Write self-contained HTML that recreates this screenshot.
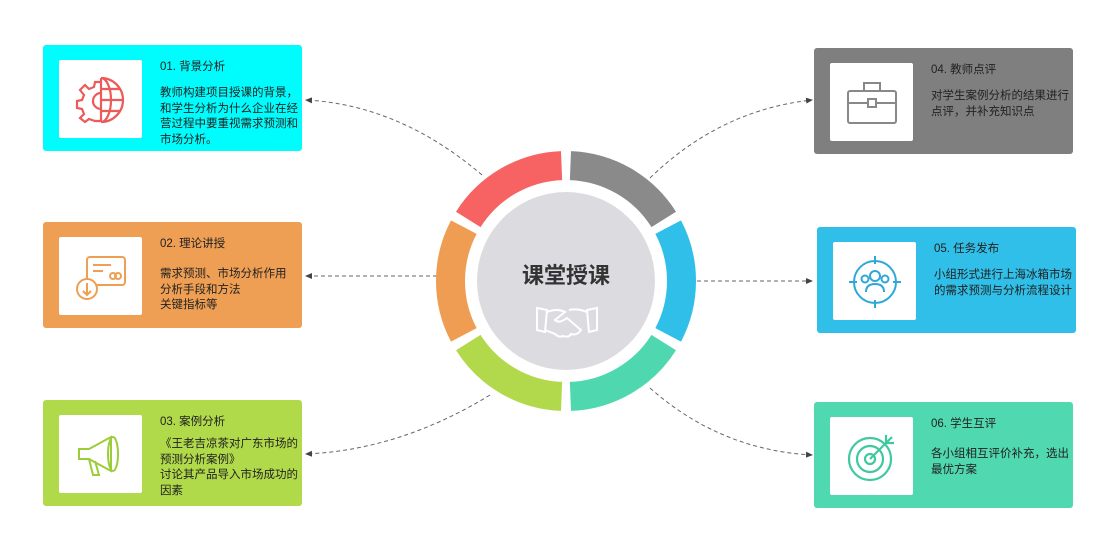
<!DOCTYPE html>
<html><head><meta charset="utf-8"><style>
body{margin:0;width:1105px;height:539px;background:#fff;position:relative;overflow:hidden;font-family:"Liberation Sans","Noto Sans CJK SC",sans-serif;}
.card{position:absolute;width:259px;height:106px;border-radius:3px;color:#222;}
.ib{position:absolute;left:16px;top:15px;width:83px;height:78px;background:#fff;border-radius:2px;}
.ib svg{position:absolute;left:16px;top:14px;}
.t{position:absolute;left:117px;top:13px;font-size:11.5px;}
.b{position:absolute;left:117px;top:41px;font-size:11.5px;line-height:15.5px;width:140px;}
</style></head><body>
<svg width="1105" height="539" style="position:absolute;left:0;top:0">
<defs><marker id="a" markerWidth="8" markerHeight="8" refX="6" refY="4" orient="auto"><path d="M0,1 L7,4 L0,7z" fill="#444"/></marker></defs>
<g fill="none" stroke="#666" stroke-width="1" stroke-dasharray="4,3" marker-end="url(#a)">
<path d="M482,175 Q400,105 306,100"/>
<path d="M437,276 L306,276"/>
<path d="M490,395 Q400,450 306,454"/>
<path d="M650,178 Q720,110 812,100"/>
<path d="M697,281 L812,281"/>
<path d="M650,388 Q720,450 812,455"/>
</g>
<circle cx="566" cy="281" r="89" fill="#dcdbe0"/>
</svg>
<svg width="1105" height="539" style="position:absolute;left:0;top:0" id="ring"></svg>
<script>
var s=document.getElementById('ring'),cx=566,cy=281,R=115.5,cols=['#8a8a8a','#2fbfe8','#4fd8b0','#b1d94b','#ee9d52','#f76262'];
for(var i=0;i<6;i++){var a0=(-90+i*60+2.2)*Math.PI/180,a1=(-90+(i+1)*60-2.2)*Math.PI/180;
var p=document.createElementNS('http://www.w3.org/2000/svg','path');
p.setAttribute('d','M'+(cx+R*Math.cos(a0))+','+(cy+R*Math.sin(a0))+' A'+R+','+R+' 0 0 1 '+(cx+R*Math.cos(a1))+','+(cy+R*Math.sin(a1)));
p.setAttribute('fill','none');p.setAttribute('stroke',cols[i]);p.setAttribute('stroke-width','29');s.appendChild(p);}
</script>
<div style="position:absolute;left:486px;top:258px;width:160px;text-align:center;font-size:22px;font-weight:bold;color:#333;">课堂授课</div>
<svg width="64" height="40" style="position:absolute;left:535px;top:304px" fill="none" stroke="#fff" stroke-width="2">
<path d="M2,4 L12,6 L10,28 L2,26z M62,4 L52,6 L54,28 L62,26z M12,8 Q22,4 30,8 L20,16 Q24,20 32,14 L46,26 Q42,32 36,30 Q34,34 28,32 Q24,34 20,30 L10,26 M52,8 Q42,4 34,6"/></svg>

<div class="card" style="left:43px;top:45px;background:#00fdfd"><div class="ib"><svg width="52" height="52" fill="none" stroke="#ec5a5a" stroke-width="2.2"><path d="M26,4 A22,22 0 0 1 26,48 M26,4 A10,22 0 0 1 26,48 M26,4 L26,48 M26,15 L45,15 M26,26 L48,26 M26,37 L45,37"/><path d="M26,8 L20,8 L19,13 L14,15 L10,11 L5,16 L9,21 L7,26 L2,27 L2,34 L7,35 L9,40 L5,44 L10,48 L14,45 L20,47 L26,47 M26,19 A8,8 0 0 0 26,35"/></svg></div><div class="t">01. 背景分析</div><div class="b">教师构建项目授课的背景，和学生分析为什么企业在经营过程中要重视需求预测和市场分析。</div></div>

<div class="card" style="left:43px;top:222px;background:#ef9f53"><div class="ib"><svg width="52" height="52" fill="none" stroke="#ef9f53" stroke-width="2"><rect x="12" y="6" width="38" height="28" rx="3"/><path d="M18,14 L36,14 M18,20 L28,20"/><circle cx="38" cy="25" r="3"/><circle cx="43" cy="25" r="3"/><circle cx="12" cy="38" r="10" fill="#fff"/><path d="M12,32 L12,44 M8,40 L12,44 L16,40"/></svg></div><div class="t">02. 理论讲授</div><div class="b" style="top:45px">需求预测、市场分析作用<br>分析手段和方法<br>关键指标等</div></div>

<div class="card" style="left:43px;top:400px;background:#b1da4a"><div class="ib"><svg width="52" height="52" fill="none" stroke="#9ccc3a" stroke-width="2"><path d="M4,20 L14,20 L36,8 L36,42 L14,30 L4,30z M14,30 L18,46 L24,46 L20,32"/><ellipse cx="38" cy="25" rx="5" ry="17"/></svg></div><div class="t">03. 案例分析</div><div class="b" style="top:37px">《王老吉凉茶对广东市场的预测分析案例》<br>讨论其产品导入市场成功的因素</div></div>

<div class="card" style="left:814px;top:48px;background:#7f7f7f"><div class="ib"><svg width="52" height="52" fill="none" stroke="#888" stroke-width="2"><rect x="2" y="14" width="48" height="32" rx="2"/><path d="M18,14 L18,6 L34,6 L34,14 M2,26 L22,26 M30,26 L50,26"/><rect x="22" y="22" width="8" height="8"/></svg></div><div class="t">04. 教师点评</div><div class="b">对学生案例分析的结果进行点评，并补充知识点</div></div>

<div class="card" style="left:817px;top:227px;background:#2fbfe8"><div class="ib"><svg width="52" height="52" fill="none" stroke="#2fa8d8" stroke-width="2"><circle cx="26" cy="26" r="21"/><path d="M26,0 L26,8 M26,44 L26,52 M0,26 L8,26 M44,26 L52,26"/><circle cx="26" cy="20" r="5"/><path d="M17,36 Q17,28 26,28 Q35,28 35,36"/><circle cx="16" cy="23" r="3.5"/><circle cx="36" cy="23" r="3.5"/></svg></div><div class="t">05. 任务发布</div><div class="b" style="top:41px;width:142px">小组形式进行上海冰箱市场的需求预测与分析流程设计</div></div>

<div class="card" style="left:814px;top:402px;background:#50d9b0"><div class="ib"><svg width="52" height="52" fill="none" stroke="#40c8a0" stroke-width="2.2"><circle cx="24" cy="28" r="21"/><circle cx="24" cy="28" r="13"/><circle cx="24" cy="28" r="5"/><path d="M24,28 L46,6 M40,4 L40,12 L48,12"/></svg></div><div class="t">06. 学生互评</div><div class="b" style="top:45px">各小组相互评价补充，选出最优方案</div></div>
</body></html>
